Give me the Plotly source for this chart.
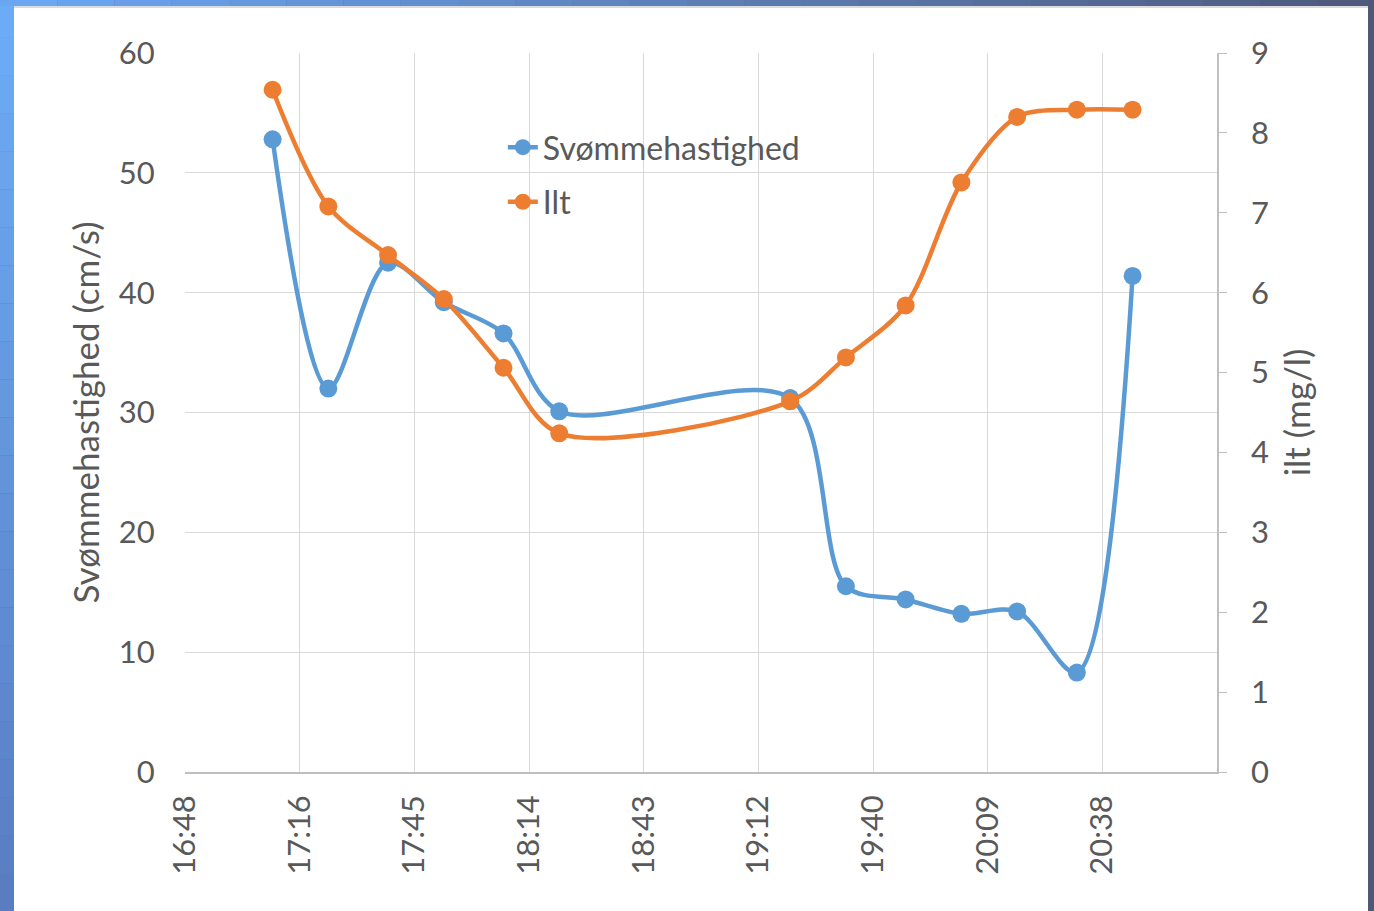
import datetime as dt
import plotly.graph_objects as go

# Measurement times (logged roughly every 0.01 day, gap between 18:22 and 19:20)
times = ["17:10", "17:24", "17:39", "17:53", "18:08", "18:22",
         "19:20", "19:34", "19:49", "20:03", "20:17", "20:32", "20:46"]
# Swimming speed (cm/s)
speed = [52.8, 32.0, 42.5, 39.2, 36.6, 30.1, 31.2, 15.5, 14.4, 13.2, 13.4, 8.3, 41.4]
# Dissolved oxygen (mg/l)
oxygen = [8.54, 7.08, 6.47, 5.92, 5.06, 4.24, 4.64, 5.19, 5.84, 7.38, 8.20, 8.29, 8.29]

# Time axis labels (Excel-style step of 0.02 day = 28.8 min)
tick_labels = ["16:48", "17:16", "17:45", "18:14", "18:43", "19:12", "19:40", "20:09", "20:38"]

day = dt.date(2015, 6, 1)
def ts(hm):
    h, m = map(int, hm.split(":"))
    return dt.datetime(day.year, day.month, day.day, h, m)

x = [ts(t) for t in times]
x_start = ts("16:48")
step = dt.timedelta(minutes=28.8)
tick_vals = [x_start + i * step for i in range(len(tick_labels))]
x_end = x_start + 9 * step

BLUE = "#5B9BD5"
ORANGE = "#ED7D31"
TXT = "#595959"
GRID = "#d9d9d9"
FONT = "Lato, 'Open Sans', sans-serif"

fig = go.Figure()
fig.add_trace(go.Scatter(
    x=x, y=speed, name="Svømmehastighed", mode="lines+markers",
    line=dict(color=BLUE, width=4.5, shape="spline", smoothing=0.9),
    marker=dict(color=BLUE, size=18), legendgroup="a"))
fig.add_trace(go.Scatter(
    x=x, y=oxygen, name="Ilt", mode="lines+markers", yaxis="y2",
    line=dict(color=ORANGE, width=4.5, shape="spline", smoothing=0.9),
    marker=dict(color=ORANGE, size=18), legendgroup="b"))

# Page geometry (pixels) used for the framed background
W, H = 1374, 911
L, R, T, B = 185, 1217, 53, 772
def px(v):
    return (v - L) / (R - L)
def py(v):
    return (B - v) / (B - T)

def lerp(c1, c2, f):
    a = [int(c1[i:i + 2], 16) for i in (1, 3, 5)]
    b = [int(c2[i:i + 2], 16) for i in (1, 3, 5)]
    return "#%02x%02x%02x" % tuple(round(a[k] + (b[k] - a[k]) * f) for k in range(3))

shapes = []
n = 24
# left blue strip, light at top, darker at bottom
for i in range(n):
    y0, y1 = H * i / n, H * (i + 1) / n
    shapes.append(dict(type="rect", xref="paper", yref="paper", layer="below",
                       x0=px(0), x1=px(14), y0=py(y1), y1=py(y0),
                       fillcolor=lerp("#6cacf6", "#5a7dc2", i / (n - 1)), line_width=0))
# top strip, blue to slate
for i in range(n):
    x0, x1 = W * i / n, W * (i + 1) / n
    shapes.append(dict(type="rect", xref="paper", yref="paper", layer="below",
                       x0=px(x0), x1=px(x1), y0=py(6), y1=py(0),
                       fillcolor=lerp("#6aa6f2", "#4f5a7e", i / (n - 1)), line_width=0))
# right slate strip
shapes.append(dict(type="rect", xref="paper", yref="paper", layer="below",
                   x0=px(1368), x1=px(W), y0=py(H), y1=py(0),
                   fillcolor="#4f5879", line_width=0))
# white chart panel
shapes.append(dict(type="rect", xref="paper", yref="paper", layer="below",
                   x0=px(14), x1=px(1368), y0=py(H), y1=py(6),
                   fillcolor="#ffffff", line_width=0))
shapes.append(dict(type="rect", xref="paper", yref="paper", layer="below",
                   x0=px(14), x1=px(1368), y0=py(8), y1=py(6),
                   fillcolor="#dcdcdc", line_width=0))

fig.update_layout(
    width=W, height=H,
    margin=dict(l=L, r=W - R, t=T, b=H - B),
    paper_bgcolor="#5a6fa8", plot_bgcolor="rgba(0,0,0,0)",
    font=dict(family=FONT, size=31, color=TXT),
    shapes=shapes,
    showlegend=True,
    legend=dict(x=0.308, y=0.907, xanchor="left", yanchor="top",
                bgcolor="rgba(0,0,0,0)", font=dict(size=32, color=TXT),
                tracegroupgap=10),
    xaxis=dict(type="date", range=[x_start, x_end], tickvals=tick_vals,
               ticktext=tick_labels, tickangle=-90,
               tickfont=dict(size=31),
               showgrid=True, gridcolor=GRID, gridwidth=1,
               showline=True, linecolor="#bfbfbf", linewidth=1.5,
               ticks="outside", ticklen=9, tickcolor="rgba(0,0,0,0)",
               zeroline=False),
    yaxis=dict(range=[0, 60], dtick=10, showgrid=True, gridcolor=GRID,
               gridwidth=1, zeroline=False, showline=False,
               tickfont=dict(size=31),
               ticks="outside", ticklen=23, tickcolor="rgba(0,0,0,0)",
               title=dict(text="Svømmehastighed (cm/s)", standoff=8,
                          font=dict(size=35, color=TXT))),
    yaxis2=dict(range=[0, 9], dtick=1, overlaying="y", side="right",
                showgrid=False, zeroline=False, showline=True,
                linecolor="#bfbfbf", linewidth=1.5,
                tickfont=dict(size=31),
                ticks="outside", ticklen=8, tickcolor="#bfbfbf",
                ticklabelstandoff=18,
                title=dict(text="ilt (mg/l)", standoff=18,
                           font=dict(size=35, color=TXT))),
)

fig.write_html("out.html")
